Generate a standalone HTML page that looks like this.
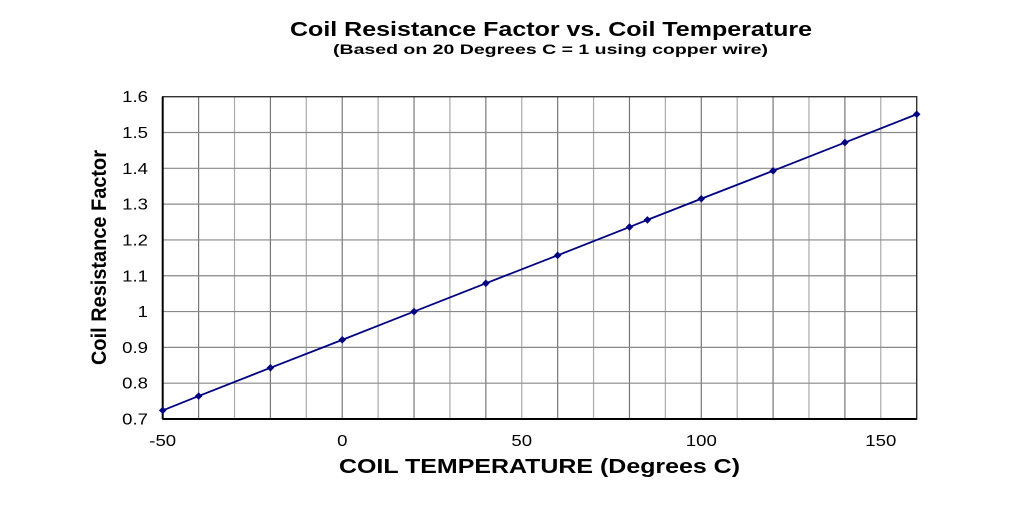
<!DOCTYPE html>
<html><head><style>body{margin:0;background:#fff}</style></head><body>
<svg width="1024" height="500" xmlns="http://www.w3.org/2000/svg" font-family="Liberation Sans, Arial, sans-serif">
<rect width="1024" height="500" fill="#fff"/>
<text x="290" y="36" font-size="20.5" font-weight="bold" textLength="522" lengthAdjust="spacingAndGlyphs">Coil Resistance Factor vs. Coil Temperature</text>
<text x="333" y="54" font-size="14" font-weight="bold" textLength="435" lengthAdjust="spacingAndGlyphs">(Based on 20 Degrees C = 1 using copper wire)</text>
<g id="grid"></g>
<g id="ylab" font-size="15.5" text-anchor="end"></g>
<g id="xlab" font-size="15.5" text-anchor="middle"></g>
<text x="339" y="473" font-size="20.5" font-weight="bold" textLength="401" lengthAdjust="spacingAndGlyphs">COIL TEMPERATURE (Degrees C)</text>
<text transform="translate(106,365) rotate(-90)" font-size="21" font-weight="bold" textLength="215" lengthAdjust="spacingAndGlyphs">Coil Resistance Factor</text>
<g id="data"></g>
</svg>
<script>
const L=162.7,R=916.7,T=96.7,B=419;
const X=v=>L+(v+50)*(R-L)/210, Y=v=>B-(v-0.7)*(B-T)/0.9;
let g='';
for(let t=-40;t<160;t+=10){g+=`<line x1="${X(t)}" x2="${X(t)}" y1="${T}" y2="${B}" stroke="${t%20==0?'#777':'#aaa'}" stroke-width="1.2"/>`;}
for(let i=1;i<9;i++){const y=Y(0.7+i*0.1);g+=`<line x1="${L}" x2="${R}" y1="${y}" y2="${y}" stroke="#888" stroke-width="1.2"/>`;}
g+=`<rect x="${L}" y="${T}" width="${R-L}" height="${B-T}" fill="none" stroke="#333" stroke-width="1.4"/>`;
g+=`<line x1="${L}" x2="${L}" y1="${T}" y2="${B}" stroke="#000" stroke-width="2"/><line x1="${L}" x2="${R}" y1="${B}" y2="${B}" stroke="#000" stroke-width="2"/>`;
document.getElementById('grid').innerHTML=g;
let yl='';['0.7','0.8','0.9','1','1.1','1.2','1.3','1.4','1.5','1.6'].forEach((s,i)=>{yl+=`<text transform="translate(148,${Y(0.7+i*0.1)+5.5}) scale(1.2,1)">${s}</text>`;});
document.getElementById('ylab').innerHTML=yl;
let xl='';[-50,0,50,100,150].forEach(v=>{xl+=`<text transform="translate(${X(v)},446) scale(1.2,1)">${v}</text>`;});
document.getElementById('xlab').innerHTML=xl;
const d=[[-50,.724],[-40,.764],[-20,.843],[0,.921],[20,1],[40,1.079],[60,1.157],[80,1.236],[85,1.256],[100,1.315],[120,1.393],[140,1.472],[160,1.551]];
let s=`<polyline fill="none" stroke="#000080" stroke-width="1.8" points="${d.map(p=>X(p[0])+','+Y(p[1])).join(' ')}"/>`;
d.forEach(p=>{const x=X(p[0]),y=Y(p[1]);s+=`<polygon points="${x},${y-3.8} ${x+3.8},${y} ${x},${y+3.8} ${x-3.8},${y}" fill="#000080"/>`;});
document.getElementById('data').innerHTML=s;
</script>
</body></html>
